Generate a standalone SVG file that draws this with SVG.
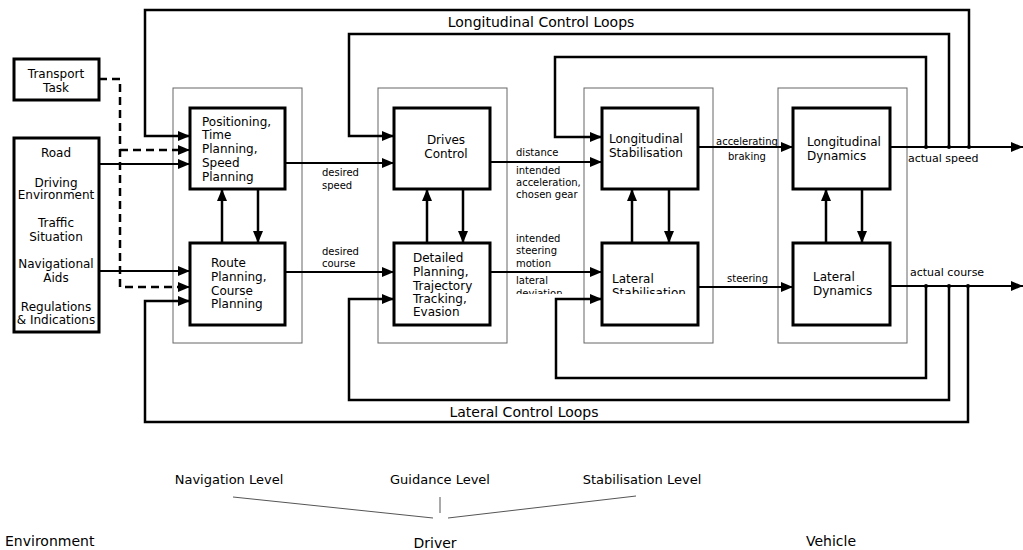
<svg xmlns="http://www.w3.org/2000/svg" width="1023" height="550" viewBox="0 0 1023 550">
  <defs>
    <marker id="arrow" viewBox="0 0 12 10" markerWidth="12" markerHeight="10" refX="12" refY="5" orient="auto" markerUnits="userSpaceOnUse">
      <path d="M0,0 L12,5 L0,10 Z" fill="#000"/>
    </marker>
    <clipPath id="cut">
      <rect x="0" y="0" width="1023" height="294"/>
    </clipPath>
  </defs>
  <style>
    text { font-family: "DejaVu Sans", "Liberation Sans", sans-serif; fill: #000; }
    .box { fill: #fff; stroke: #000; stroke-width: 3; }
    .level { fill: none; stroke: #666; stroke-width: 1; }
    .t { font-size: 12px; }
    .c { text-anchor: middle; }
    .lbl { font-size: 10px; }
    .loop { font-size: 14px; text-anchor: middle; }
    .bottom { font-size: 13px; text-anchor: middle; }
    .wire { fill: none; stroke: #000; stroke-width: 2; marker-end: url(#arrow); }
    .fb { fill: none; stroke: #000; stroke-width: 2.5; marker-end: url(#arrow); }
    .dash { fill: none; stroke: #000; stroke-width: 2.5; stroke-dasharray: 8 5; }
    .fan { fill: none; stroke: #555; stroke-width: 1; }
  </style>

  <rect width="1023" height="550" fill="#fff"/>

  <!-- level containers -->
  <g id="levels">
    <rect class="level" x="173" y="88" width="129" height="255"/>
    <rect class="level" x="378" y="88" width="129" height="255"/>
    <rect class="level" x="584" y="88" width="129" height="255"/>
    <rect class="level" x="778" y="88" width="129" height="255"/>
  </g>

  <!-- connectors -->
  <g id="connectors">
    <!-- environment inputs -->
    <path class="wire" d="M99,164 H190"/>
    <path class="wire" d="M99,271 H190"/>
    <path class="dash" d="M99,79 H120 V287 H178"/>
    <path class="dash" d="M120,150 H178"/>
    <path d="M178,150 H190" class="wire"/>
    <path d="M178,287 H190" class="wire"/>

    <!-- longitudinal chain -->
    <path class="wire" d="M285,163 H394"/>
    <path class="wire" d="M490,162 H602"/>
    <path class="wire" d="M698,147 H793"/>
    <path class="wire" d="M890,147 H1023"/>

    <!-- lateral chain -->
    <path class="wire" d="M285,272 H394"/>
    <path class="wire" d="M490,272 H602"/>
    <path class="wire" d="M698,287 H793"/>
    <path class="wire" d="M890,286 H1023"/>

    <!-- longitudinal control loops -->
    <path class="fb" d="M969,147 V10 H145 V136 H190"/>
    <path class="fb" d="M949,147 V34 H349 V136 H394"/>
    <path class="fb" d="M926,147 V57 H555 V137 H602"/>

    <!-- lateral control loops -->
    <path class="fb" d="M926,286 V378 H556 V299 H602"/>
    <path class="fb" d="M949,286 V400 H349 V299 H394"/>
    <path class="fb" d="M968,286 V422 H145 V301 H190"/>

    <!-- vertical coupling between longitudinal and lateral blocks -->
    <path class="fb" d="M222,243 V189"/>
    <path class="fb" d="M258,189 V243"/>
    <path class="fb" d="M427,243 V189"/>
    <path class="fb" d="M463,189 V243"/>
    <path class="fb" d="M632,243 V189"/>
    <path class="fb" d="M669,189 V243"/>
    <path class="fb" d="M826,243 V189"/>
    <path class="fb" d="M862,189 V243"/>

    <!-- junction dots -->
    <g fill="#000">
      <circle cx="926" cy="147" r="2"/>
      <circle cx="949" cy="147" r="2"/>
      <circle cx="969" cy="147" r="2"/>
      <circle cx="926" cy="286" r="2"/>
      <circle cx="949" cy="286" r="2"/>
      <circle cx="968" cy="286" r="2"/>
    </g>
  </g>

  <!-- environment -->
  <g id="transport-task">
    <rect class="box" x="14" y="59" width="85" height="41"/>
    <text class="t c" x="56" y="78">Transport</text>
    <text class="t c" x="56" y="92">Task</text>
  </g>
  <g id="environment">
    <rect class="box" x="14" y="138" width="85" height="194"/>
    <text class="t c" x="56" y="157">Road</text>
    <text class="t c" x="56" y="187">Driving</text>
    <text class="t c" x="56" y="199">Environment</text>
    <text class="t c" x="56" y="227">Traffic</text>
    <text class="t c" x="56" y="241">Situation</text>
    <text class="t c" x="56" y="268">Navigational</text>
    <text class="t c" x="56" y="282">Aids</text>
    <text class="t c" x="56" y="311">Regulations</text>
    <text class="t c" x="56" y="324">&amp; Indications</text>
  </g>

  <!-- navigation level -->
  <g id="positioning">
    <rect class="box" x="190" y="108" width="95" height="81"/>
    <text class="t" x="202" y="126">Positioning,</text>
    <text class="t" x="202" y="139">Time</text>
    <text class="t" x="202" y="153">Planning,</text>
    <text class="t" x="202" y="167">Speed</text>
    <text class="t" x="202" y="181">Planning</text>
  </g>
  <g id="route-planning">
    <rect class="box" x="190" y="243" width="95" height="82"/>
    <text class="t" x="211" y="267">Route</text>
    <text class="t" x="211" y="281">Planning,</text>
    <text class="t" x="211" y="295">Course</text>
    <text class="t" x="211" y="308">Planning</text>
  </g>

  <!-- guidance level -->
  <g id="drives-control">
    <rect class="box" x="394" y="108" width="96" height="81"/>
    <text class="t c" x="446" y="144">Drives</text>
    <text class="t c" x="446" y="158">Control</text>
  </g>
  <g id="detailed-planning">
    <rect class="box" x="394" y="243" width="96" height="82"/>
    <text class="t" x="413" y="262">Detailed</text>
    <text class="t" x="413" y="276">Planning,</text>
    <text class="t" x="413" y="290">Trajectory</text>
    <text class="t" x="413" y="303">Tracking,</text>
    <text class="t" x="413" y="316">Evasion</text>
  </g>

  <!-- stabilisation level -->
  <g id="longitudinal-stabilisation">
    <rect class="box" x="602" y="108" width="96" height="81"/>
    <text class="t" x="609" y="143">Longitudinal</text>
    <text class="t" x="609" y="157">Stabilisation</text>
  </g>
  <g id="lateral-stabilisation">
    <rect class="box" x="602" y="243" width="96" height="82"/>
    <g clip-path="url(#cut)">
      <text class="t" x="612" y="283">Lateral</text>
      <text class="t" x="612" y="297">Stabilisation</text>
    </g>
  </g>

  <!-- vehicle -->
  <g id="longitudinal-dynamics">
    <rect class="box" x="793" y="108" width="97" height="81"/>
    <text class="t" x="807" y="146">Longitudinal</text>
    <text class="t" x="807" y="160">Dynamics</text>
  </g>
  <g id="lateral-dynamics">
    <rect class="box" x="793" y="243" width="97" height="82"/>
    <text class="t" x="813" y="281">Lateral</text>
    <text class="t" x="813" y="295">Dynamics</text>
  </g>

  <!-- signal labels -->
  <g id="signal-labels" class="lbl">
    <text class="lbl" x="322" y="176">desired</text>
    <text class="lbl" x="322" y="189">speed</text>
    <text class="lbl" x="322" y="255">desired</text>
    <text class="lbl" x="322" y="267">course</text>
    <text class="lbl" x="516" y="156">distance</text>
    <text class="lbl" x="516" y="174">intended</text>
    <text class="lbl" x="516" y="186">acceleration,</text>
    <text class="lbl" x="516" y="198">chosen gear</text>
    <text class="lbl" x="516" y="242">intended</text>
    <text class="lbl" x="516" y="254">steering</text>
    <text class="lbl" x="516" y="267">motion</text>
    <g clip-path="url(#cut)">
      <text class="lbl" x="516" y="284">lateral</text>
      <text class="lbl" x="516" y="297">deviation</text>
    </g>
    <text class="lbl" x="716" y="145">accelerating</text>
    <text class="lbl" x="728" y="160">braking</text>
    <text class="lbl" x="727" y="282">steering</text>
    <text class="lbl" x="908" y="162" style="font-size:11px">actual speed</text>
    <text class="lbl" x="910" y="276" style="font-size:11px">actual course</text>
  </g>

  <!-- loop captions -->
  <text class="loop" x="541" y="27">Longitudinal Control Loops</text>
  <text class="loop" x="524" y="417">Lateral Control Loops</text>

  <!-- level legend -->
  <g id="legend">
    <text class="bottom" x="229" y="484">Navigation Level</text>
    <text class="bottom" x="440" y="484">Guidance Level</text>
    <text class="bottom" x="642" y="484">Stabilisation Level</text>
    <path class="fan" d="M233,497 L433,518"/>
    <path class="fan" d="M440,497 V513"/>
    <path class="fan" d="M448,518 L636,496"/>
    <text style="font-size:14px" x="5" y="546">Environment</text>
    <text style="font-size:14px" text-anchor="middle" x="435" y="548">Driver</text>
    <text style="font-size:14px" text-anchor="middle" x="831" y="546">Vehicle</text>
  </g>
</svg>
